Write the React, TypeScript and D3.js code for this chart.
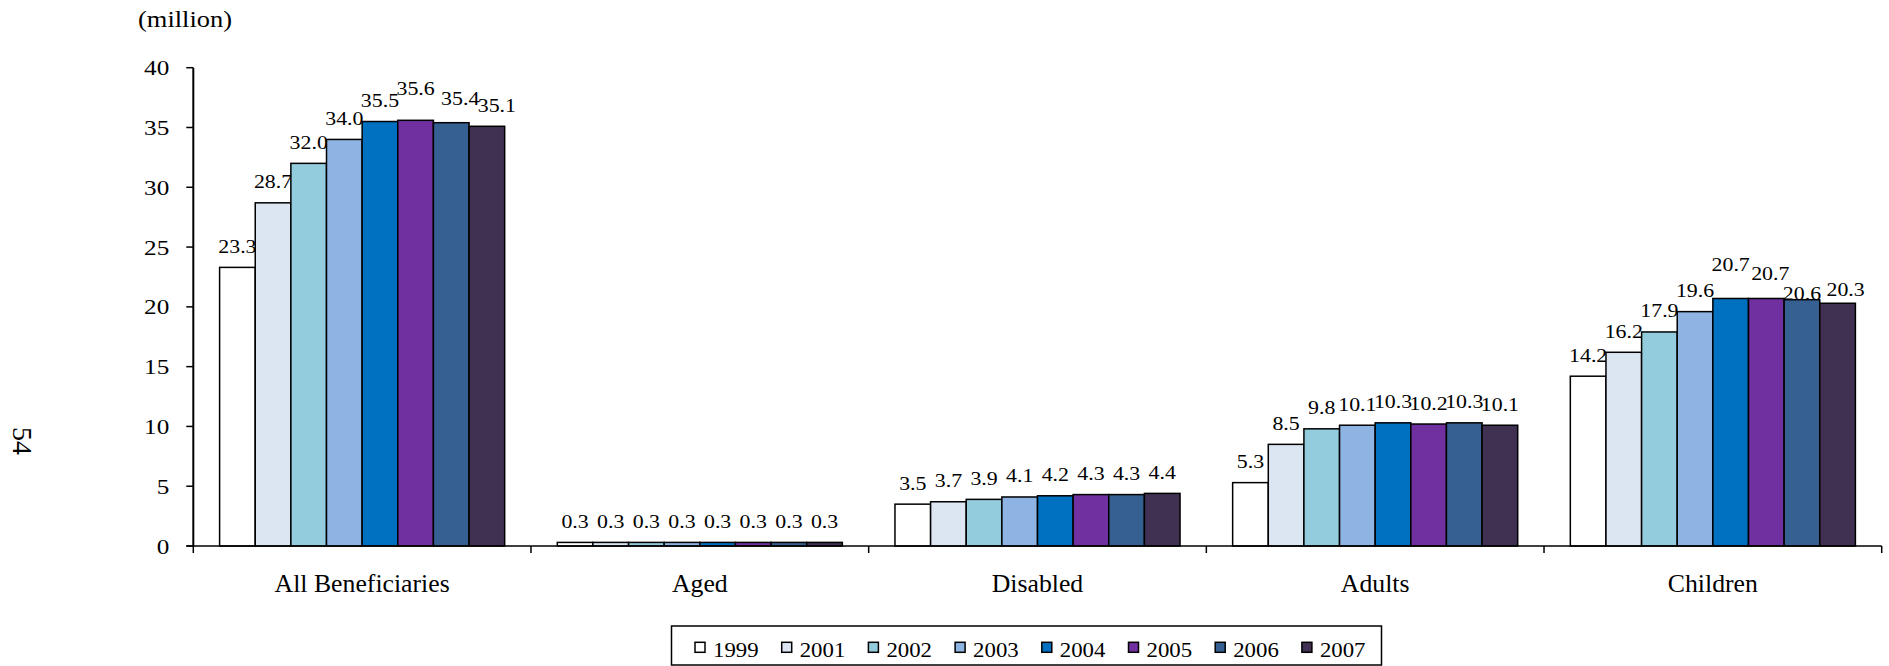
import React from "react";
import * as d3 from "d3";

const categories = ["All Beneficiaries", "Aged", "Disabled", "Adults", "Children"];
const years = ["1999", "2001", "2002", "2003", "2004", "2005", "2006", "2007"];
const s1999 = [23.3, 0.3, 3.5, 5.3, 14.2];
const s2001 = [28.7, 0.3, 3.7, 8.5, 16.2];
const s2002 = [32.0, 0.3, 3.9, 9.8, 17.9];
const s2003 = [34.0, 0.3, 4.1, 10.1, 19.6];
const s2004 = [35.5, 0.3, 4.2, 10.3, 20.7];
const s2005 = [35.6, 0.3, 4.3, 10.2, 20.7];
const s2006 = [35.4, 0.3, 4.3, 10.3, 20.6];
const s2007 = [35.1, 0.3, 4.4, 10.1, 20.3];
const yTicks = [0, 5, 10, 15, 20, 25, 30, 35, 40];
const unitLabel = "(million)";
const pageLabel = "54";

const seriesValues = [s1999, s2001, s2002, s2003, s2004, s2005, s2006, s2007];
const colors = ["#FFFFFF", "#DCE6F2", "#93CDDD", "#8EB4E3", "#0070C0", "#7030A0", "#376092", "#403152"];

// label collision nudges (category index - series index) -> [dx, dy]
const labelNudge: Record<string, [number, number]> = {
  "0-5": [0, -11],
  "0-6": [9, -3],
  "0-7": [10, 0],
  "4-4": [0, -13],
  "4-5": [4, -4],
  "4-6": [0, 15],
  "4-7": [8, 7],
};

const W = 1889;
const H = 666;
const FONT = "'Liberation Serif', 'Times New Roman', serif";

export default function App() {
  const left = 193.3;
  const right = 1881.7;
  const y = d3.scaleLinear().domain([0, 40]).range([546, 67.7]);
  const x0 = d3.scaleBand<string>().domain(categories).range([left, right]).padding(0);
  const inset = x0.bandwidth() * 0.0779;
  const x1 = d3.scaleBand<string>().domain(years).range([inset, x0.bandwidth() - inset]).padding(0);
  const bw = x1.bandwidth();
  const boundaries = categories.map((c) => x0(c)!).concat([right]);

  const legendLeft = 671.5;
  const legendRight = 1381.5;
  const legendTop = 626;
  const legendBottom = 665;
  const legendStep = 86.7;

  return (
    <svg width={W} height={H} style={{ position: "absolute", left: 0, top: 0, display: "block", background: "#fff" }} fontFamily={FONT}>
      {/* page number */}
      <text transform={`translate(22,441) rotate(90)`} fontSize={28} textAnchor="middle" dominantBaseline="central" fill="#000">
        {pageLabel}
      </text>
      {/* unit label */}
      <text transform={`translate(185,26.5) scale(1.15,1)`} fontSize={23} textAnchor="middle" fill="#000">
        {unitLabel}
      </text>

      {/* y axis ticks and labels */}
      {yTicks.map((t) => (
        <g key={t}>
          <line x1={left - 7} x2={left} y1={y(t)} y2={y(t)} stroke="#000" strokeWidth={1.5} />
          <text transform={`translate(${left - 24},${y(t) + 7.5}) scale(1.2,1)`} fontSize={21} textAnchor="end" fill="#000">
            {t}
          </text>
        </g>
      ))}

      {/* bars and labels, drawn series by series */}
      {seriesValues.map((vals, si) => (
        <g key={years[si]}>
          {categories.map((c, ci) => {
            const v = vals[ci];
            const bx = x0(c)! + x1(years[si])!;
            return (
              <rect key={c} x={bx} y={y(v)} width={bw} height={y(0) - y(v)} fill={colors[si]} stroke="#000" strokeWidth={1.5} />
            );
          })}
          {categories.map((c, ci) => {
            const v = vals[ci];
            const bx = x0(c)! + x1(years[si])! + bw / 2;
            const n = labelNudge[`${ci}-${si}`] || [0, 0];
            return (
              <text
                key={c}
                transform={`translate(${bx + n[0]},${y(v) - 14.5 + n[1]}) scale(1.15,1)`}
                fontSize={19}
                textAnchor="middle"
                fill="#000"
              >
                {v.toFixed(1)}
              </text>
            );
          })}
        </g>
      ))}

      {/* axes lines */}
      <line x1={left} x2={left} y1={y(40)} y2={y(0)} stroke="#000" strokeWidth={2} />
      <line x1={left - 7} x2={right} y1={y(0)} y2={y(0)} stroke="#000" strokeWidth={1.5} />
      {boundaries.map((b, i) => (
        <line key={i} x1={b} x2={b} y1={y(0)} y2={y(0) + 7} stroke="#000" strokeWidth={1.5} />
      ))}

      {/* category labels */}
      {categories.map((c) => (
        <text key={c} transform={`translate(${x0(c)! + x0.bandwidth() / 2},591.5) scale(1.03,1)`} fontSize={25} textAnchor="middle" fill="#000">
          {c}
        </text>
      ))}

      {/* legend */}
      <rect x={legendLeft} y={legendTop} width={legendRight - legendLeft} height={legendBottom - legendTop} fill="#fff" stroke="#000" strokeWidth={1.5} />
      {years.map((yr, i) => {
        const lx = 695 + i * legendStep;
        return (
          <g key={yr}>
            <rect x={lx} y={642.3} width={10} height={10} fill={colors[i]} stroke="#000" strokeWidth={1.5} />
            <text transform={`translate(${lx + 18},656.7) scale(1.14,1)`} fontSize={20} fill="#000">
              {yr}
            </text>
          </g>
        );
      })}
    </svg>
  );
}
